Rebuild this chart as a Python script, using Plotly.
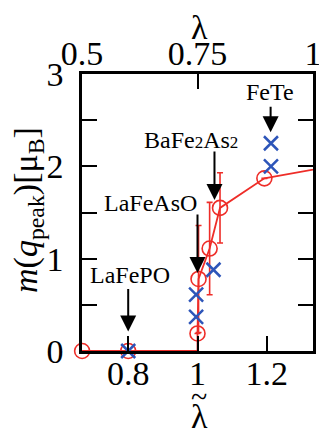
import plotly.graph_objects as go

# red circles (with error bars), lambda-tilde vs m(q_peak)
circ_x = [0.667, 0.8, 1.0, 1.003, 1.035, 1.065, 1.193]
circ_y = [0.0, 0.0, 0.19, 0.78, 1.11, 1.55, 1.87]
circ_err = [0, 0, 0, 0.58, 0.5, 0.38, 0]

# red connecting curve
curve_x = [0.667, 0.8, 1.0, 1.0, 1.003, 1.035, 1.065, 1.193, 1.4]
curve_y = [0.0, 0.0, 0.0, 0.19, 0.78, 1.11, 1.55, 1.87, 2.01]

# blue crosses
cross_x = [0.8, 0.996, 0.996, 1.046, 1.212, 1.212]
cross_y = [0.0, 0.37, 0.61, 0.88, 2.0, 2.25]

# material arrows
materials = ["LaFePO", "LaFeAsO", "BaFe<span style='font-size:17px'>2</span>As<span style='font-size:17px'>2</span>", "FeTe"]
mat_x = [0.8, 1.0, 1.049, 1.211]
mat_tip = [0.21, 0.845, 1.636, 2.37]
mat_len = [44, 60, 50, 27]
lab_px = [130, 150, 191, 270]
lab_py = [275, 203, 140, 92]

ytick_vals = [0, 0.5, 1, 1.5, 2, 2.5, 3]
ytick_text = ["0", "", "1", "", "2", "", "3"]
bot_ticks = [0.8, 1.0, 1.2]
top_ticks = [0.5, 0.75, 1.0]

RED = "rgb(238,45,40)"
BLUE = "rgb(45,85,185)"
FONT = "'Liberation Serif', 'Times New Roman', Times, serif"

# page has an 8px body margin, so the figure is drawn smaller and offset
OFF = 8
W, H = 327 - OFF, 439 - OFF
L, R, T, B = 82 - OFF, 14, 74 - OFF, 88
pw = W - L - R
ph = H - T - B

def px(x):
    return (x - OFF - L) / pw

def py(y):
    return (H - B - (y - OFF)) / ph

def label(x, y, text, size, angle=0):
    fig.add_annotation(xref="paper", yref="paper", x=px(x), y=py(y), text=text,
                       showarrow=False, xanchor="center", yanchor="middle",
                       textangle=angle, font=dict(family=FONT, size=size, color="black"))

fig = go.Figure()

fig.add_trace(go.Scatter(x=curve_x, y=curve_y, mode="lines",
                         line=dict(color=RED, width=1.8), hoverinfo="skip"))
fig.add_trace(go.Scatter(x=circ_x, y=circ_y, mode="markers", cliponaxis=False,
                         marker=dict(symbol="circle-open", size=15, color=RED,
                                     line=dict(width=1.6, color=RED)),
                         error_y=dict(type="data", array=circ_err, color=RED,
                                      thickness=1.6, width=3)))
fig.add_trace(go.Scatter(x=cross_x, y=cross_y, mode="markers", cliponaxis=False,
                         marker=dict(symbol="x-thin-open", size=14, color=BLUE,
                                     line=dict(width=2.5, color=BLUE))))
fig.add_trace(go.Scatter(x=[], y=[], xaxis="x2"))

for i in range(len(materials)):
    fig.add_annotation(x=mat_x[i], y=mat_tip[i], text="", showarrow=True,
                       ax=0, ay=-mat_len[i], arrowhead=2, arrowsize=1.6,
                       arrowwidth=2, arrowcolor="black")
    label(lab_px[i], lab_py[i], materials[i], 24)

label(28, 210, "<i>m</i>(<i>q</i><sub>peak</sub>)[μ<sub>B</sub>]", 34, -90)
label(199, 27, "λ", 34)
label(199, 416, "λ", 34)
label(199, 396, "~", 30)

axfont = dict(family=FONT, size=34, color="black")
fig.update_layout(
    width=W, height=H, margin=dict(l=L, r=R, t=T, b=B),
    paper_bgcolor="white", plot_bgcolor="white", showlegend=False,
    font=dict(family=FONT),
    xaxis=dict(range=[2 / 3, 4 / 3], tickvals=bot_ticks, ticktext=["0.8", "1", "1.2"],
               ticks="inside", ticklen=15, tickwidth=2, tickcolor="black",
               showline=True, linewidth=2.5, linecolor="black", showgrid=False,
               zeroline=False, tickfont=axfont, automargin=False,
               ticklabelstandoff=-10),
    xaxis2=dict(range=[0.5, 1.0], overlaying="x", side="top", tickvals=top_ticks,
                ticktext=["0.5", "0.75", "1"], ticks="inside", ticklen=15, tickwidth=2,
                tickcolor="black", showline=True, linewidth=2.5, linecolor="black",
                showgrid=False, zeroline=False, tickfont=axfont, automargin=False,
                ticklabelstandoff=-7),
    yaxis=dict(range=[0, 3], tickvals=ytick_vals, ticktext=ytick_text,
               ticks="inside", ticklen=15, tickwidth=2, tickcolor="black",
               showline=True, linewidth=2.5, linecolor="black", mirror="ticks",
               showgrid=False, zeroline=False, tickfont=axfont, automargin=False,
               ticklabelstandoff=9),
)

fig.write_html("out.html")
